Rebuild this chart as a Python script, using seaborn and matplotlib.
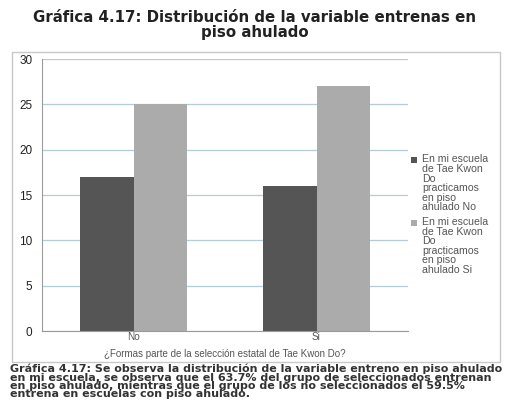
import matplotlib
matplotlib.use("Agg")
import matplotlib.pyplot as plt
import matplotlib.patches as mpatches
import pandas as pd
import seaborn as sns

categorias = ["No", "Si"]
piso_no = [17, 16]
piso_si = [25, 27]
series = ["En mi escuela\nde Tae Kwon\nDo\npracticamos\nen piso\nahulado No",
          "En mi escuela\nde Tae Kwon\nDo\npracticamos\nen piso\nahulado Si"]
colores = ["#555555", "#ababab"]
y_ticks = [0, 5, 10, 15, 20, 25, 30]

df = pd.DataFrame({
    "seleccion": categorias * 2,
    "valor": piso_no + piso_si,
    "serie": [series[0]] * 2 + [series[1]] * 2,
})

sns.set_style("white")
plt.rcParams["font.family"] = ["Liberation Sans", "DejaVu Sans"]

fig = plt.figure(figsize=(5.09, 4.03), dpi=100)
fig.patch.set_facecolor("white")

# marco exterior del grafico
marco = mpatches.Rectangle((12 / 509, 1 - 362 / 403), 488 / 509, 310 / 403,
                           transform=fig.transFigure, fill=False,
                           edgecolor="#c8c8c8", linewidth=1)
fig.add_artist(marco)

ax = fig.add_axes([42 / 509, 1 - 331 / 403, 366 / 509, 272 / 403])
sns.barplot(data=df, x="seleccion", y="valor", hue="serie", order=categorias,
            hue_order=series, palette=colores, width=0.58, saturation=1,
            edgecolor="none", ax=ax)

ax.set_xlim(-0.5, 1.5)
ax.set_ylim(0, 30)
ax.set_yticks(y_ticks)
ax.yaxis.grid(True, color="#b4ccd4", linewidth=0.9)
ax.set_axisbelow(True)
for s in ["top", "right"]:
    ax.spines[s].set_visible(False)
ax.spines["left"].set_color("#9a9a9a")
ax.spines["bottom"].set_color("#9a9a9a")
ax.tick_params(axis="y", labelsize=8.5, colors="#222222", length=0, pad=7)
ax.tick_params(axis="x", labelsize=7.2, colors="#555555", length=0, pad=1)
ax.set_ylabel("")
ax.set_xlabel("¿Formas parte de la selección estatal de Tae Kwon Do?",
              fontsize=7, color="#555555", labelpad=5)

leg = ax.legend(loc="upper left", bbox_to_anchor=(0.998, 0.665), frameon=False,
                fontsize=7.6, handlelength=0.55, handleheight=0.55,
                handletextpad=0.45, labelspacing=0.45, borderaxespad=0)
for t in leg.get_texts():
    t.set_color("#555555")
    t.set_linespacing(0.95)
# marcador alineado con la primera linea del texto
for p in leg.get_patches():
    p.set_y(p.get_y() + 17)

fig.text(0.5, 0.975, "Gráfica 4.17: Distribución de la variable entrenas en\npiso ahulado",
         ha="center", va="top", fontsize=10.8, fontweight="bold",
         color="#222222", linespacing=1.0, family="DejaVu Sans")

caption = ("Gráfica 4.17: Se observa la distribución de la variable entreno en piso ahulado\n"
           "en mi escuela, se observa que el 63.7% del grupo de seleccionados entrenan\n"
           "en piso ahulado, mientras que el grupo de los no seleccionados el 59.5%\n"
           "entrena en escuelas con piso ahulado.")
fig.text(10 / 509, 1 - 364 / 403, caption, ha="left", va="top", fontsize=8.0,
         fontweight="bold", color="#333333", linespacing=0.78, family="DejaVu Sans")

fig.savefig("out.png", dpi=100)
